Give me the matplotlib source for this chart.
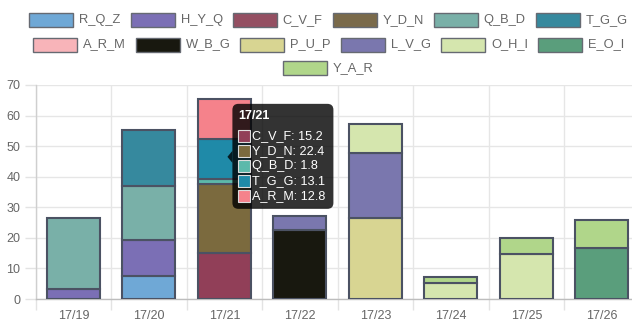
import matplotlib
matplotlib.use("Agg")
import matplotlib.pyplot as plt
from matplotlib.patches import Rectangle, FancyBboxPatch, Polygon

plt.rcParams["font.family"] = ["Liberation Sans", "DejaVu Sans"]

categories = ["17/19", "17/20", "17/21", "17/22", "17/23", "17/24", "17/25", "17/26"]

series_names = ["R_Q_Z", "H_Y_Q", "C_V_F", "Y_D_N", "Q_B_D", "T_G_G", "A_R_M",
                "W_B_G", "P_U_P", "L_V_G", "O_H_I", "E_O_I", "Y_A_R"]

r_q_z = [0, 7.5, 0, 0, 0, 0, 0, 0]
h_y_q = [3.2, 11.9, 0, 0, 0, 0, 0, 0]
c_v_f = [0, 0, 15.2, 0, 0, 0, 0, 0]
y_d_n = [0, 0, 22.4, 0, 0, 0, 0, 0]
q_b_d = [23.4, 17.5, 1.8, 0, 0, 0, 0, 0]
t_g_g = [0, 18.4, 13.1, 0, 0, 0, 0, 0]
a_r_m = [0, 0, 12.8, 0, 0, 0, 0, 0]
w_b_g = [0, 0, 0, 22.6, 0, 0, 0, 0]
p_u_p = [0, 0, 0, 0, 26.5, 0, 0, 0]
l_v_g = [0, 0, 0, 4.6, 21.2, 0, 0, 0]
o_h_i = [0, 0, 0, 0, 9.4, 5.1, 14.6, 0]
e_o_i = [0, 0, 0, 0, 0, 0, 0, 16.6]
y_a_r = [0, 0, 0, 0, 0, 2.0, 5.3, 9.3]

series_values = [r_q_z, h_y_q, c_v_f, y_d_n, q_b_d, t_g_g, a_r_m,
                 w_b_g, p_u_p, l_v_g, o_h_i, e_o_i, y_a_r]

colors = ["#6fa8d6", "#7b6fb5", "#944f62", "#7a6a4a", "#79b0a8", "#36899e", "#f8b4b9",
          "#18180f", "#d8d592", "#7a77ae", "#d5e6ae", "#5a9e7c", "#b0d68a"]

# highlighted colours for the active (hovered) column
hover_colors = {"C_V_F": "#913f58", "Y_D_N": "#7b6a3e", "Q_B_D": "#5cb9ab",
                "T_G_G": "#1f8aa8", "A_R_M": "#f5828b"}
active_index = 2

edge = "#4b5263"
W, H = 632, 324

fig = plt.figure(figsize=(W / 100, H / 100), dpi=100)
left_px, right_px, top_px, base_px = 35.7, 639.5, 85.0, 299.0
ax = fig.add_axes([left_px / W, (H - base_px) / H, (right_px - left_px) / W,
                   (base_px - top_px) / H])

x = list(range(len(categories)))
bottoms = [0.0] * len(categories)
for name, vals, col in zip(series_names, series_values, colors):
    for i, v in enumerate(vals):
        if v:
            c = hover_colors.get(name, col) if i == active_index else col
            ax.bar(i, v, bottom=bottoms[i], width=0.7, color=c, edgecolor=edge,
                   linewidth=1.5, zorder=3)
            bottoms[i] += v

ax.set_xlim(-0.5, len(categories) - 0.5)
ax.set_ylim(0, 70)
ax.set_yticks(range(0, 71, 10))
ax.set_xticks(x)
ax.set_xticklabels(categories)
ax.set_xticks([i - 0.5 for i in range(len(categories) + 1)], minor=True)
ax.tick_params(axis="x", which="major", length=0, pad=8, labelsize=9, labelcolor="#666666")
ax.tick_params(axis="x", which="minor", length=8, color="#e3e3e3", width=1)
ax.tick_params(axis="y", length=8, color="#e3e3e3", width=1, pad=3, labelsize=9,
               labelcolor="#666666")
ax.grid(True, axis="y", color="#e6e6e6", linewidth=1, zorder=0)
ax.grid(True, axis="x", which="minor", color="#e6e6e6", linewidth=1, zorder=0)
ax.set_axisbelow(True)
for s in ["top", "right"]:
    ax.spines[s].set_visible(False)
ax.spines["left"].set_color("#cfcfcf")
ax.spines["bottom"].set_color("#bdbdbd")
ax.spines["left"].set_linewidth(1)
ax.spines["bottom"].set_linewidth(1)

# overlay in pixel coordinates for legend and tooltip
ov = fig.add_axes([0, 0, 1, 1], zorder=10)
ov.set_xlim(0, W)
ov.set_ylim(H, 0)
ov.axis("off")

fig.canvas.draw()
renderer = fig.canvas.get_renderer()

# legend rows, centred
rows = [series_names[0:6], series_names[6:12], series_names[12:13]]
row_y = [20, 44.5, 68]
box_w, box_h, gap, pad = 44, 14, 6, 10
fs = 9.3
center_x = 328.5
for names, yc in zip(rows, row_y):
    widths = []
    for n in names:
        t = ov.text(0, 0, n, fontsize=fs)
        bb = t.get_window_extent(renderer)
        widths.append(bb.width)
        t.remove()
    total = sum(box_w + gap + w for w in widths) + pad * (len(names) - 1)
    cx = center_x - total / 2
    for n, w in zip(names, widths):
        col = colors[series_names.index(n)]
        ov.add_patch(Rectangle((cx, yc - box_h / 2), box_w, box_h, facecolor=col,
                               edgecolor="#666a72", linewidth=1))
        ov.text(cx + box_w + gap, yc, n, fontsize=fs, color="#666666", va="center",
                ha="left")
        cx += box_w + gap + w + pad

# tooltip for the active column
tfs = 9.1
px, py = ax.transData.transform((active_index + 0.04, 46.5))
tip_x, tip_y = px, H - py
bx, by, bw, bh = tip_x + 5, tip_y - 53, 101, 105
ov.add_patch(FancyBboxPatch((bx, by), bw, bh,
                            boxstyle="round,pad=0,rounding_size=6",
                            facecolor="#000000", alpha=0.8, edgecolor="none"))
ov.add_patch(Polygon([(tip_x, tip_y), (bx, tip_y - 6), (bx, tip_y + 6)],
                     closed=True, facecolor="#000000", alpha=0.8, edgecolor="none"))
ov.text(bx + 6, by + 12, categories[active_index], fontsize=tfs, color="white",
        fontweight="bold", va="center", ha="left")
ry = by + 32
for name, vals, col in zip(series_names, series_values, colors):
    v = vals[active_index]
    if not v:
        continue
    c = hover_colors.get(name, col)
    ov.add_patch(Rectangle((bx + 6, ry - 6), 12, 12, facecolor=c, edgecolor="#dddddd",
                           linewidth=0.8))
    ov.text(bx + 20, ry, f"{name}: {v}", fontsize=tfs, color="white", va="center",
            ha="left")
    ry += 15

fig.savefig("out.png", dpi=100)
